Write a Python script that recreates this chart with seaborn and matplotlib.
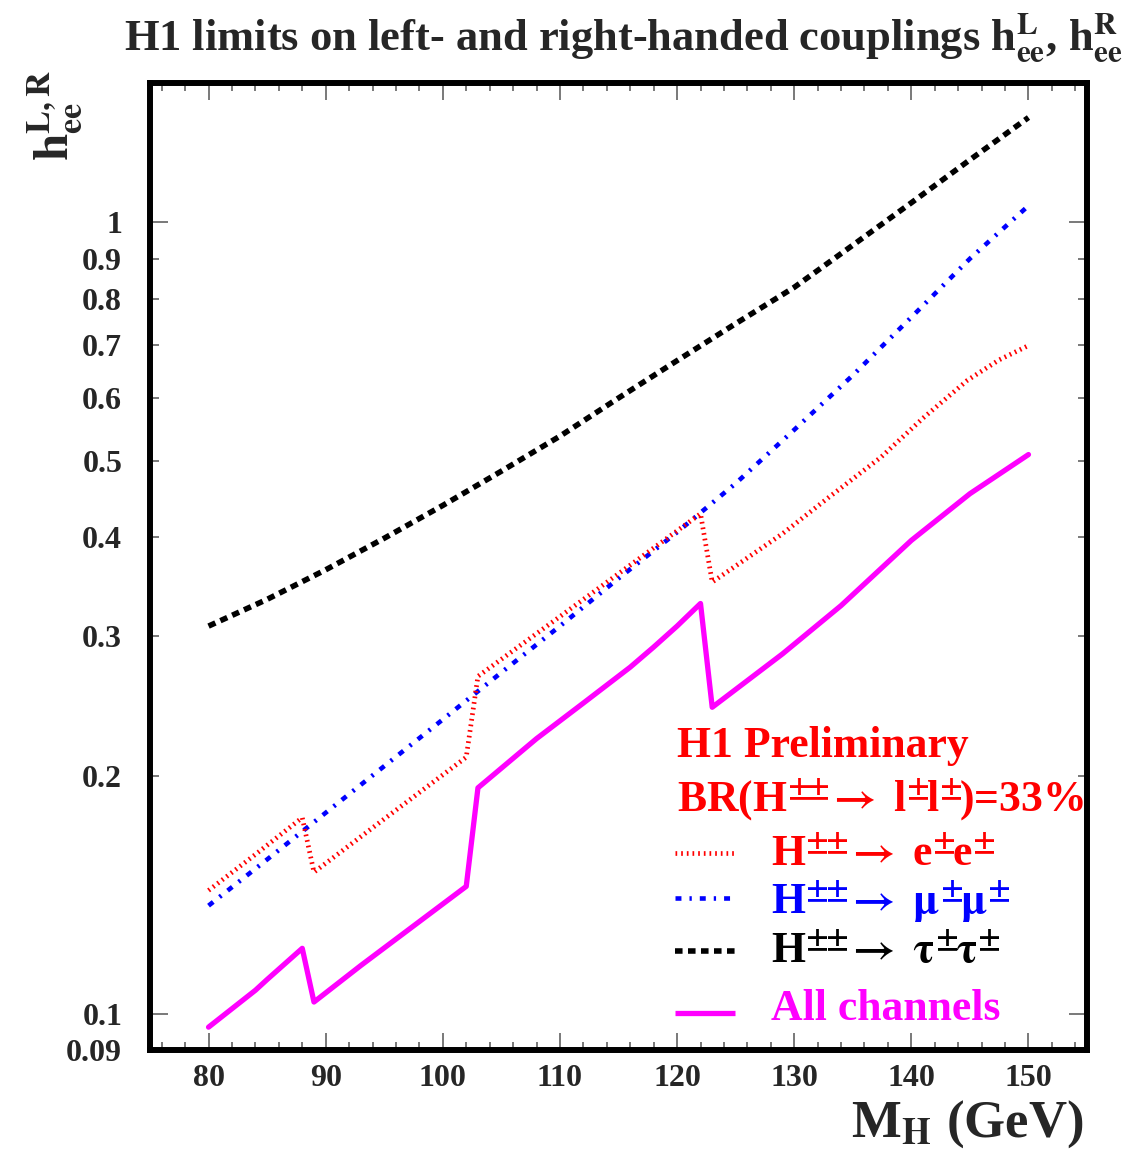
import matplotlib
matplotlib.use("Agg")
import pandas as pd
import seaborn as sns
import matplotlib.pyplot as plt
from matplotlib.ticker import FixedLocator, FixedFormatter, MultipleLocator

# limits (h_ee vs M_H in GeV)
mass_tau = [80, 85, 90, 95, 100, 105, 110, 115, 120, 125, 130, 135, 140, 145, 150]
limit_tau = [0.309, 0.334, 0.364, 0.399, 0.439, 0.485, 0.537, 0.600, 0.669,
             0.745, 0.828, 0.936, 1.059, 1.20, 1.357]

mass_mu = [80, 85, 90, 95, 100, 105, 110, 115, 120, 125, 130, 135, 140, 145, 150]
limit_mu = [0.137, 0.1567, 0.1795, 0.2056, 0.2355, 0.270, 0.309, 0.355, 0.406,
            0.468, 0.547, 0.641, 0.759, 0.90, 1.05]

mass_e = [80, 84, 88, 89, 95, 102, 103, 110, 116, 122, 123, 129, 133, 137.4,
          141, 144.8, 147.5, 150]
limit_e = [0.1432, 0.159, 0.177, 0.151, 0.1763, 0.211, 0.267, 0.3177, 0.369,
           0.4285, 0.3512, 0.4043, 0.450, 0.505, 0.566, 0.632, 0.6705, 0.699]

mass_all = [80, 84, 85, 88, 89, 93, 102, 103, 108, 112, 116, 118, 120, 122,
            123, 129, 134, 140, 145, 150]
limit_all = [0.0962, 0.1071, 0.1105, 0.121, 0.1035, 0.1151, 0.1449, 0.193,
             0.2227, 0.247, 0.2742, 0.2907, 0.309, 0.330, 0.244, 0.285, 0.328,
             0.3965, 0.4542, 0.509]

y_major = [0.1, 1]
y_major_labels = ["0.1", "1"]
y_minor = [0.09, 0.2, 0.3, 0.4, 0.5, 0.6, 0.7, 0.8, 0.9]
y_minor_labels = ["0.09", "0.2", "0.3", "0.4", "0.5", "0.6", "0.7", "0.8", "0.9"]

sns.set_theme(style="ticks")
plt.rcParams["font.family"] = ["Liberation Serif", "DejaVu Serif"]
plt.rcParams["font.weight"] = "bold"
plt.rcParams["mathtext.fontset"] = "stix"
plt.rcParams["axes.linewidth"] = 4.3
plt.rcParams["axes.edgecolor"] = "black"

fig = plt.figure(figsize=(11.26, 11.59), dpi=100)
ax = fig.add_axes([0.1332, 0.0940, 0.8322, 0.8343])

red_lw, blue_lw, black_lw, all_lw = 3.4, 3.3, 4.0, 3.8
red_ls = (0, (0.36, 0.84))
blue_ls = (0, (1.3, 1.75, 0.5, 1.75))
black_ls = (0, (1.36, 0.98))

sns.lineplot(x=mass_tau, y=limit_tau, ax=ax, color="black", lw=black_lw,
             linestyle=black_ls, dash_capstyle="butt")
sns.lineplot(x=mass_mu, y=limit_mu, ax=ax, color="#0000ff", lw=blue_lw,
             linestyle=blue_ls, dash_capstyle="butt")
sns.lineplot(x=mass_e, y=limit_e, ax=ax, color="#ff0000", lw=red_lw,
             linestyle=red_ls, dash_capstyle="butt")
sns.lineplot(x=mass_all, y=limit_all, ax=ax, color="#ff00ff", lw=all_lw)

ax.set_yscale("log")
ax.set_xlim(75, 155)
ax.set_ylim(0.09, 1.5)
ax.xaxis.set_major_locator(MultipleLocator(10))
ax.xaxis.set_minor_locator(MultipleLocator(2))
ax.yaxis.set_major_locator(FixedLocator(y_major))
ax.yaxis.set_major_formatter(FixedFormatter(y_major_labels))
ax.yaxis.set_minor_locator(FixedLocator(y_minor))
ax.yaxis.set_minor_formatter(FixedFormatter(y_minor_labels))

ax.tick_params(which="both", direction="in", top=True, right=True,
               color="#555555", width=1.1, labelsize=23)
ax.tick_params(axis="x", which="major", length=12.5, pad=10)
ax.tick_params(axis="x", which="minor", length=6)
ax.tick_params(axis="y", which="major", length=13, pad=20)
ax.tick_params(axis="y", which="minor", length=6.5, pad=20)
ax.set_xlabel("")
ax.set_ylabel("")

pm2 = r"^{{\pm}\!{\pm}}"
fig.text(0.5533, 0.9569,
         r"H1 limits on left- and right-handed couplings "
         r"h$^{\mathbf{L}}_{\mathbf{ee}}$, h$^{\mathbf{R}}_{\mathbf{ee}}$",
         ha="center", va="baseline", fontsize=32)
fig.text(0.049, 0.90, r"h$^{\mathbf{L,R}}_{\mathbf{ee}}$", rotation=90,
         ha="center", va="center", fontsize=35)
fig.text(0.9618, 0.019, r"M$_{\mathbf{H}}$ (GeV)", ha="right",
         va="baseline", fontsize=38)

# legend block
tr = ax.transAxes
ax.text(0.5621, 0.3033, "H1 Preliminary", color="#ff0000", fontsize=31.5,
        transform=tr, va="baseline")
ax.text(0.5621, 0.2475,
        "BR(H$" + pm2 + r"\!{\rightarrow}$ l$^{\pm}\!$l$^{\pm}\!$)=33%",
        color="#ff0000", fontsize=31.5, transform=tr, va="baseline")

entries = [
    ("H$" + pm2 + r"\!{\rightarrow}$ e$^{\pm}\!$e$^{\pm}$",
     "#ff0000", red_lw, red_ls, 0.2040, 0.1913),
    ("H$" + pm2 + r"\!{\rightarrow}\ \mathrm{\mu}^{\pm}\!\mathrm{\mu}^{\pm}$",
     "#0000ff", blue_lw, blue_ls, 0.1569, 0.1414),
    ("H$" + pm2 + r"\!{\rightarrow}\ \mathrm{\tau}^{\pm}\!\mathrm{\tau}^{\pm}$",
     "black", black_lw, black_ls, 0.1027, 0.0913),
    ("All channels", "#ff00ff", all_lw, "-", 0.0380, 0.0310),
]
for label, color, lw, ls, y_line, y_text in entries:
    ax.plot([0.5603, 0.6243], [y_line, y_line], transform=tr, color=color,
            lw=lw, linestyle=ls, dash_capstyle="butt", solid_capstyle="butt")
    ax.text(0.6628, y_text, label, color=color, fontsize=31.5, transform=tr,
            va="baseline")

fig.savefig("out.png", dpi=100)
